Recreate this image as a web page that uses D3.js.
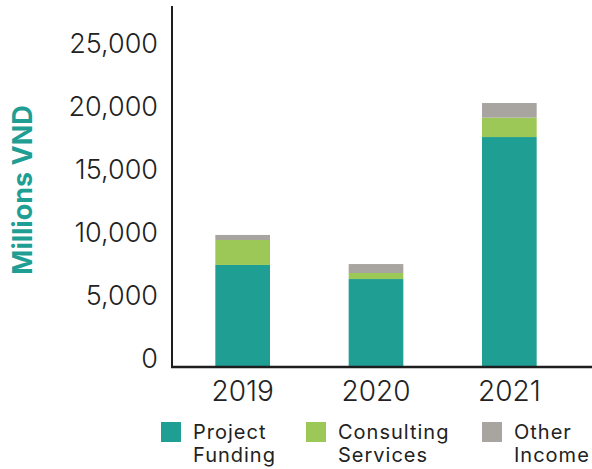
<!DOCTYPE html>
<html>
<head>
<meta charset="utf-8">
<script src="https://cdn.jsdelivr.net/npm/d3@7"></script>
<style>
  body { margin: 0; background: #fff; }
  svg text { font-family: Inter, "Open Sans", sans-serif; fill: #222; }
</style>
</head>
<body>
<div id="chart"></div>
<script>
// Data (millions VND)
const years = ["2019", "2020", "2021"];
const projectFunding = [8100, 6980, 18250];
const consultingServices = [1980, 480, 1540];
const otherIncome = [400, 710, 1160];
const yTicks = [0, 5000, 10000, 15000, 20000, 25000];

const seriesNames = ["Project\nFunding", "Consulting\nServices", "Other\nIncome"];
const seriesColors = ["#1f9e94", "#9cc858", "#a8a4a0"];

const WIDTH = 592;
const HEIGHT = 469;
const AXIS_X = 172;
const AXIS_Y = 367;

const svg = d3.select("#chart")
    .append("svg")
    .attr("width", WIDTH)
    .attr("height", HEIGHT);

const x = d3.scaleBand()
    .domain(years)
    .range([176, 576])
    .paddingInner(0.59)
    .paddingOuter(0.295);

const y = d3.scaleLinear()
    .domain([0, 25000])
    .range([AXIS_Y, 52]);

// stack the three series per year
const rows = years.map((yr, i) => ({
    year: yr,
    s0: projectFunding[i],
    s1: consultingServices[i],
    s2: otherIncome[i]
}));
const stacked = d3.stack().keys(["s0", "s1", "s2"])(rows);

svg.append("g")
    .selectAll("g")
    .data(stacked)
    .join("g")
    .attr("fill", (d, i) => seriesColors[i])
    .selectAll("rect")
    .data(d => d)
    .join("rect")
    .attr("x", d => x(d.data.year))
    .attr("width", x.bandwidth())
    .attr("y", d => y(d[1]))
    .attr("height", d => y(d[0]) - y(d[1]));

// y axis: tick labels sit with baseline on the value
const yAxis = svg.append("g")
    .attr("transform", `translate(${AXIS_X},0)`)
    .call(d3.axisLeft(y)
        .tickValues(yTicks)
        .tickSize(0)
        .tickPadding(14)
        .tickFormat(d3.format(",")));
yAxis.select(".domain").remove();
yAxis.selectAll("text")
    .attr("dy", 0)
    .style("font-size", "27px")
    .style("font-weight", 300)
    .style("font-family", "Inter, sans-serif")
    .attr("fill", "#222");

svg.append("line")
    .attr("x1", AXIS_X).attr("x2", AXIS_X)
    .attr("y1", 6).attr("y2", AXIS_Y + 1)
    .attr("stroke", "#1e1e1e")
    .attr("stroke-width", 2);

// x axis
const xAxis = svg.append("g")
    .attr("transform", `translate(0,${AXIS_Y})`)
    .call(d3.axisBottom(x).tickSize(0).tickPadding(14));
xAxis.select(".domain").remove();
xAxis.selectAll("text")
    .attr("dy", "0.71em")
    .style("font-size", "28px")
    .style("font-weight", 300)
    .style("font-family", "Inter, sans-serif")
    .attr("fill", "#222");

svg.append("line")
    .attr("x1", AXIS_X - 1).attr("x2", WIDTH)
    .attr("y1", AXIS_Y).attr("y2", AXIS_Y)
    .attr("stroke", "#1e1e1e")
    .attr("stroke-width", 2.5);

// y axis title
svg.append("text")
    .attr("transform", `translate(32,190) rotate(-90)`)
    .attr("text-anchor", "middle")
    .style("font-size", "27px")
    .style("font-weight", 700)
    .style("fill", "#1f9e94")
    .text("Millions VND");

// legend
const legendX = [161, 306, 482];
const legend = svg.append("g")
    .selectAll("g")
    .data(seriesNames)
    .join("g")
    .attr("transform", (d, i) => `translate(${legendX[i]},422)`);

legend.append("rect")
    .attr("width", 20)
    .attr("height", 20)
    .attr("fill", (d, i) => seriesColors[i]);

legend.append("text")
    .style("font-size", "20px")
    .style("letter-spacing", "1px")
    .attr("fill", "#222")
    .selectAll("tspan")
    .data(d => d.split("\n"))
    .join("tspan")
    .attr("x", 32)
    .attr("y", (d, i) => 17 + i * 23)
    .text(d => d);
</script>
</body>
</html>
